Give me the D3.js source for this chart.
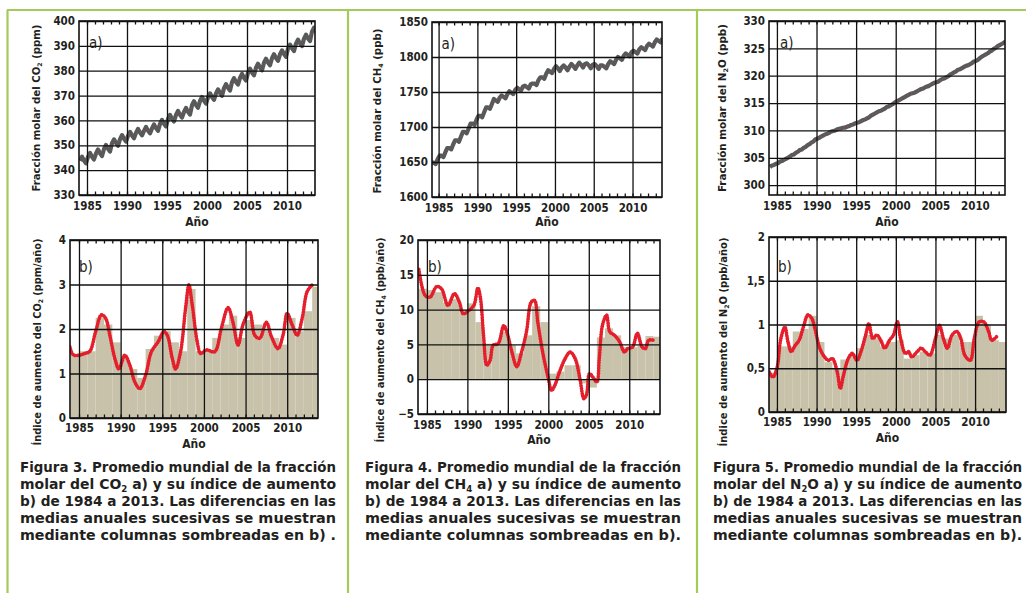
<!DOCTYPE html>
<html>
<head>
<meta charset="utf-8">
<script src="https://cdn.jsdelivr.net/npm/d3@7"></script>
<style>
body { margin: 0; background: #fff; }
svg { display: block; }
text { font-family: "Liberation Sans Narrow", "DejaVu Sans Condensed", sans-serif; fill: #231f20; }
</style>
</head>
<body>
<svg id="chart" width="1026" height="593"></svg>
<script>
// years covered by the records
var years = d3.range(1984, 2014);
var majorYears = [1985, 1990, 1995, 2000, 2005, 2010];

// a) mole fraction, four readings per year (1984 .. 2013)
var co2Quarterly = [
  343.8, 345.4, 343.9, 342.8,  345.3, 346.9, 345.4, 344.3,  346.7, 348.3, 346.8, 345.7,
  348.5, 350.1, 348.6, 347.5,  350.8, 352.4, 350.9, 349.8,  352.5, 354.1, 352.6, 351.5,
  353.8, 355.4, 353.9, 352.8,  355.0, 356.6, 355.1, 354.0,  355.8, 357.4, 355.9, 354.8,
  356.8, 358.4, 356.9, 355.8,  358.6, 360.2, 358.7, 357.6,  360.6, 362.2, 360.7, 359.6,
  362.2, 363.8, 362.3, 361.2,  363.4, 365.0, 363.5, 362.4,  366.1, 367.7, 366.2, 365.1,
  367.8, 369.4, 367.9, 366.8,  369.3, 370.9, 369.4, 368.3,  370.9, 372.5, 371.0, 369.9,
  373.0, 374.6, 373.1, 372.0,  375.4, 377.0, 375.5, 374.4,  377.1, 378.7, 377.2, 376.1,
  379.2, 380.8, 379.3, 378.2,  381.2, 382.8, 381.3, 380.2,  383.2, 384.8, 383.3, 382.2,
  385.0, 386.6, 385.1, 384.0,  386.6, 388.2, 386.7, 385.6,  388.9, 390.5, 389.0, 387.9,
  390.9, 392.5, 391.0, 389.9,  392.9, 394.5, 393.0, 391.9,  395.7, 397.3, 395.8, 394.7
];
var co2Annual = [344.0, 345.5, 346.9, 348.7, 351.0, 352.7, 354.0, 355.2, 356.0, 357.0,
  358.8, 360.8, 362.4, 363.6, 366.3, 368.0, 369.5, 371.1, 373.2, 375.6,
  377.3, 379.4, 381.4, 383.4, 385.2, 386.8, 389.1, 391.1, 393.1, 395.9];

var ch4Quarterly = [
  1649, 1649, 1647, 1654,  1659, 1659, 1657, 1664,  1670, 1670, 1668, 1675,
  1681, 1681, 1679, 1686,  1693, 1693, 1691, 1698,  1705, 1705, 1703, 1710,
  1716, 1716, 1714, 1721,  1728, 1728, 1726, 1733,  1740, 1738, 1736, 1742,
  1745, 1743, 1741, 1747,  1751, 1749, 1747, 1753,  1756, 1754, 1752, 1758,
  1759, 1757, 1755, 1761,  1762, 1762, 1760, 1767,  1771, 1771, 1769, 1776,
  1781, 1779, 1777, 1783,  1787, 1784, 1780, 1785,  1788, 1785, 1781, 1786,
  1790, 1787, 1783, 1788,  1792, 1789, 1785, 1790,  1791, 1788, 1784, 1789,
  1790, 1787, 1783, 1788,  1788, 1786, 1784, 1790,  1794, 1792, 1790, 1796,
  1800, 1798, 1796, 1802,  1805, 1803, 1801, 1807,  1809, 1807, 1805, 1811,
  1814, 1812, 1810, 1816,  1819, 1817, 1815, 1821,  1825, 1823, 1821, 1827
];
var ch4Annual = [1650, 1660, 1671, 1682, 1694, 1706, 1717, 1729, 1739, 1744,
  1750, 1755, 1758, 1763, 1772, 1780, 1784, 1785, 1787, 1789,
  1788, 1787, 1787, 1793, 1799, 1804, 1808, 1813, 1818, 1824];

var n2oQuarterly = [
  303.3, 303.6, 303.7, 303.9,  304.0, 304.3, 304.4, 304.6,  304.8, 305.0, 305.2, 305.5,
  305.6, 305.9, 306.1, 306.4,  306.5, 306.8, 307.0, 307.3,  307.5, 307.8, 308.0, 308.4,
  308.5, 308.7, 308.9, 309.1,  309.3, 309.4, 309.6, 309.8,  309.9, 310.0, 310.2, 310.3,
  310.4, 310.5, 310.5, 310.7,  310.8, 311.0, 311.1, 311.3,  311.4, 311.5, 311.7, 311.9,
  312.0, 312.2, 312.4, 312.7,  312.9, 313.1, 313.3, 313.5,  313.6, 313.8, 314.0, 314.3,
  314.4, 314.6, 314.8, 315.1,  315.3, 315.5, 315.7, 315.9,  316.1, 316.3, 316.5, 316.7,
  316.8, 316.9, 317.1, 317.3,  317.5, 317.6, 317.8, 318.0,  318.1, 318.3, 318.5, 318.7,
  318.8, 318.9, 319.2, 319.4,  319.5, 319.7, 319.9, 320.2,  320.4, 320.6, 320.8, 321.1,
  321.2, 321.4, 321.6, 321.8,  321.9, 322.1, 322.3, 322.6,  322.7, 322.9, 323.2, 323.5,
  323.7, 323.9, 324.1, 324.4,  324.6, 324.9, 325.1, 325.4,  325.6, 325.8, 326.0, 326.3
];
var n2oAnnual = [303.6, 304.3, 305.1, 306.0, 306.9, 307.9, 308.8, 309.5, 310.1, 310.5,
  311.0, 311.6, 312.3, 313.2, 313.9, 314.7, 315.6, 316.4, 317.0, 317.7,
  318.4, 319.0, 319.8, 320.7, 321.5, 322.2, 323.0, 324.0, 325.0, 325.9];

// b) growth rate (smoothed curve, [year, value])
var co2Rate = [[1983.9,1.6],[1984.3,1.42],[1985,1.41],[1985.7,1.45],[1986.3,1.5],[1987,1.94],
  [1987.7,2.32],[1988.2,2.24],[1988.7,1.86],[1989.3,1.34],[1989.8,1.1],[1990.5,1.41],
  [1991.1,1.19],[1991.7,0.81],[1992.3,0.66],[1993,0.96],[1993.7,1.49],[1994.5,1.71],
  [1995.2,1.94],[1995.6,1.86],[1996.2,1.34],[1996.6,1.1],[1997.2,1.49],[1997.8,2.47],
  [1998.2,2.99],[1998.6,2.54],[1999.2,1.71],[1999.6,1.45],[2000.3,1.53],[2001.3,1.49],
  [2002.1,2.02],[2002.9,2.48],[2003.5,2.14],[2004.1,1.64],[2004.7,2.1],[2005.5,2.38],
  [2006.1,1.86],[2006.7,1.79],[2007.5,2.15],[2008.1,1.83],[2008.9,1.56],[2009.5,1.86],
  [2010.0,2.35],[2010.6,2.09],[2011.2,1.86],[2011.8,2.24],[2012.4,2.84],[2013.0,2.99]];
var ch4Rate = [[1984.0,15.8],[1984.8,12.0],[1985.4,11.8],[1986.2,13.3],[1986.8,13.0],[1987.6,10.6],
  [1988.4,12.3],[1989.0,11.1],[1989.5,9.4],[1990.2,9.9],[1990.8,10.6],[1991.3,13.1],
  [1991.6,11.8],[1992.0,6.3],[1992.4,2.0],[1992.8,2.7],[1993.2,4.9],[1993.8,5.1],
  [1994.5,7.7],[1994.9,6.7],[1995.5,3.9],[1996.1,1.8],[1996.7,3.9],[1997.3,6.8],
  [1997.9,11.1],[1998.3,11.3],[1998.7,8.2],[1999.3,3.9],[2000.0,0.1],[2000.4,-1.6],
  [2000.8,-0.9],[2001.4,1.1],[2002.1,3.0],[2002.7,3.9],[2003.3,3.0],[2003.9,0.1],
  [2004.4,-2.8],[2004.7,-2.3],[2005.1,0.8],[2005.5,0.3],[2006.0,-0.4],[2006.3,3.0],
  [2006.7,7.8],[2007.2,9.2],[2007.6,6.8],[2008.2,6.3],[2008.8,5.4],[2009.4,3.9],
  [2009.8,4.4],[2010.4,4.6],[2011.0,6.6],[2011.6,4.6],[2012.0,4.4],[2012.4,5.6],[2013.0,5.6]];
var n2oRate = [[1984.0,0.46],[1984.5,0.40],[1985.0,0.5],[1985.5,0.84],[1986.0,0.97],[1986.4,0.80],
  [1986.8,0.69],[1987.3,0.76],[1987.8,0.82],[1988.4,0.99],[1988.9,1.11],[1989.4,1.07],
  [1989.8,0.95],[1990.4,0.73],[1991.0,0.63],[1991.5,0.59],[1992.0,0.61],[1992.6,0.46],
  [1993.0,0.27],[1993.4,0.42],[1994.0,0.61],[1994.5,0.67],[1995.1,0.59],[1995.6,0.69],
  [1996.2,0.88],[1996.6,1.01],[1997.1,0.84],[1997.6,0.88],[1998.1,0.82],[1998.6,0.73],
  [1999.2,0.82],[1999.7,0.88],[2000.2,1.03],[2000.6,0.84],[2001.2,0.67],[2001.6,0.69],
  [2002.0,0.63],[2002.7,0.69],[2003.2,0.73],[2003.7,0.69],[2004.3,0.65],[2005.0,0.84],
  [2005.5,0.99],[2006.0,0.84],[2006.5,0.73],[2007.1,0.88],[2007.7,0.92],[2008.2,0.84],
  [2008.7,0.65],[2009.4,0.59],[2009.9,0.84],[2010.5,1.03],[2011.1,1.03],[2011.7,0.92],
  [2012.1,0.82],[2012.7,0.86]];

// b) differences of successive annual means (shaded columns)
var co2Bars = [1.4, 1.5, 1.5, 2.25, 2.1, 1.7, 1.35, 1.1, 0.9, 1.55, 1.85, 1.95, 1.7, 1.5, 2.9,
  1.5, 1.5, 1.8, 2.1, 2.3, 1.8, 2.2, 2.1, 2.0, 1.8, 1.65, 2.25, 1.95, 2.4, 2.95];
var ch4Bars = [13, 12.8, 12.5, 11, 11.5, 10, 10.9, 8.2, 5.1, 5.1, 6.8, 4.9, 3.7, 6.3, 10.5,
  8.2, 0.8, 1.1, 2.0, 2.0, -0.6, -1.2, 6.0, 7.3, 6.3, 4.6, 4.6, 4.9, 6.2, 6.1];
var n2oBars = [0.45, 0.75, 0.75, 0.92, 0.95, 1.1, 0.8, 0.57, 0.5, 0.6, 0.65, 0.73, 0.88, 0.84,
  0.75, 0.8, 0.82, 0.61, 0.65, 0.69, 0.67, 0.88, 0.84, 0.88, 0.8, 0.8, 1.1, 0.99, 0.82, 0.8];

// axis ticks
var co2Ticks = [330, 340, 350, 360, 370, 380, 390, 400];
var ch4Ticks = [1600, 1650, 1700, 1750, 1800, 1850];
var n2oTicks = [300, 305, 310, 315, 320, 325, 330];
var co2RateTicks = [0, 1, 2, 3, 4];
var ch4RateTicks = [-5, 0, 5, 10, 15, 20];
var n2oRateTicks = [0, 0.5, 1, 1.5, 2];

var captions = [
  ["Figura 3. Promedio mundial de la fracción", "molar del CO|2| a) y su índice de aumento",
   "b) de 1984 a 2013. Las diferencias en las", "medias anuales sucesivas se muestran",
   "mediante columnas sombreadas en b) ."],
  ["Figura 4. Promedio mundial de la fracción", "molar del CH|4| a) y su índice de aumento",
   "b) de 1984 a 2013. Las diferencias en las", "medias anuales sucesivas se muestran",
   "mediante columnas sombreadas en b)."],
  ["Figura 5. Promedio mundial de la fracción", "molar del N|2|O a) y su índice de aumento",
   "b) de 1984 a 2013. Las diferencias en las", "medias anuales sucesivas se muestran",
   "mediante columnas sombreadas en b)."]
];

var svg = d3.select("#chart");
var quarterTime = function(i) { return 1984 + (i + 0.5) / 4; };
var commaFmt = function(d) { return String(d).replace(".", ","); };

// text with "|n|" marking a subscript
function richText(sel, str, size) {
  var parts = str.split("|");
  parts.forEach(function(p, i) {
    if (!p) return;
    var t = sel.append("tspan").text(p);
    if (i % 2 == 1) t.attr("dy", size * 0.22).style("font-size", (size * 0.62) + "px");
    else if (i > 0) t.attr("dy", -size * 0.22);
  });
}

// green frames
var green = "#a5ca5c";
svg.append("line").attr("x1", 7).attr("x2", 1026).attr("y1", 10).attr("y2", 10)
  .attr("stroke", green).attr("stroke-width", 2.2);
[7.5, 348, 697].forEach(function(xx) {
  svg.append("line").attr("x1", xx).attr("x2", xx).attr("y1", 10).attr("y2", 593)
    .attr("stroke", green).attr("stroke-width", 2.2);
});

function drawPanel(o) {
  var x = d3.scaleLinear().domain(o.xDomain).range([o.left, o.right]);
  var y = d3.scaleLinear().domain(o.yDomain).range([o.bottom, o.top]);
  var w = o.right - o.left, h = o.bottom - o.top;
  svg.append("clipPath").attr("id", "clip" + o.id)
    .append("rect").attr("x", o.left).attr("y", o.top).attr("width", w).attr("height", h);
  var g = svg.append("g");
  var plot = g.append("g").attr("clip-path", "url(#clip" + o.id + ")");

  if (o.bars) {
    plot.selectAll("rect.bar").data(o.bars).enter().append("rect")
      .attr("class", "bar")
      .attr("x", function(d, i) { return x(years[i]); })
      .attr("width", function(d, i) { return x(years[i] + 1) - x(years[i]); })
      .attr("y", function(d) { return y(Math.max(0, d)); })
      .attr("height", function(d) { return Math.abs(y(d) - y(0)); })
      .attr("fill", "#c8c2aa");
  }

  // grid + tick labels
  var xa = g.append("g").attr("transform", "translate(0," + o.bottom + ")")
    .call(d3.axisBottom(x).tickValues(majorYears).tickSize(-h).tickPadding(o.xPad).tickFormat(d3.format("d")));
  var ya = g.append("g").attr("transform", "translate(" + o.left + ",0)")
    .call(d3.axisLeft(y).tickValues(o.yTicks).tickSize(-w).tickPadding(4).tickFormat(o.yFormat || d3.format("d")));
  [xa, ya].forEach(function(a) {
    a.select(".domain").remove();
    a.selectAll("line").attr("stroke", "#111").attr("stroke-width", 1.3);
    a.selectAll("text").style("font-size", "11.5px").style("font-weight", "bold")
      .style("font-family", '"Liberation Sans Narrow", "DejaVu Sans Condensed", sans-serif').attr("fill", "#231f20");
  });

  // minor year ticks, top and bottom, pointing inward
  g.append("g").attr("transform", "translate(0," + o.top + ")")
    .call(d3.axisTop(x).tickValues(years.slice(1)).tickSize(-3.5).tickFormat(""))
    .call(function(a) { a.select(".domain").remove(); a.selectAll("line").attr("stroke", "#111").attr("stroke-width", 1.3); });
  g.append("g").attr("transform", "translate(0," + o.bottom + ")")
    .call(d3.axisBottom(x).tickValues(years.slice(1)).tickSize(-3.5).tickFormat(""))
    .call(function(a) { a.select(".domain").remove(); a.selectAll("line").attr("stroke", "#111").attr("stroke-width", 1.3); });

  if (o.series) {
    plot.append("path").datum(o.series)
      .attr("d", d3.line().x(function(d, i) { return x(quarterTime(i)); }).y(function(d) { return y(d); }))
      .attr("fill", "none").attr("stroke", "#555b5b").attr("stroke-width", 4.2).attr("stroke-linejoin", "round");
    plot.append("path").datum(o.trend)
      .attr("d", d3.line().x(function(d, i) { return x(years[i] + 0.5); }).y(function(d) { return y(d); }))
      .attr("fill", "none").attr("stroke", "#e8323a").attr("stroke-width", 1)
      .attr("stroke-dasharray", "1,3");
  }
  if (o.rate) {
    var rl = d3.line().curve(d3.curveCatmullRom.alpha(0.5))
      .x(function(d) { return x(d[0]); }).y(function(d) { return y(d[1]); });
    plot.append("path").datum(o.rate).attr("d", rl)
      .attr("fill", "none").attr("stroke", "#f07a80").attr("stroke-width", 2.4);
    plot.append("path").datum(o.rate).attr("d", rl)
      .attr("fill", "none").attr("stroke", "#e41e2a").attr("stroke-width", 3.6)
      .attr("stroke-linecap", "round").attr("stroke-dasharray", "0.3,2.3");
  }

  // frame
  g.append("rect").attr("x", o.left).attr("y", o.top).attr("width", w).attr("height", h)
    .attr("fill", "none").attr("stroke", "#111").attr("stroke-width", 1.6);

  // panel letter
  g.append("text").attr("x", x(1985) + o.tagDx).attr("y", o.top + o.tagDy)
    .style("font-size", "15px").text(o.tag);

  // x title
  g.append("text").attr("x", (o.left + o.right) / 2).attr("y", o.bottom + o.titleDy)
    .attr("text-anchor", "middle").style("font-size", "12px").style("font-weight", "bold").text("Año");

  // y title
  var yt = g.append("text").attr("transform", "translate(" + o.yTitleX + "," + o.yTitleY + ") rotate(-90)")
    .attr("text-anchor", "middle").style("font-size", "10px").style("font-weight", "bold")
    .attr("textLength", o.yTitleLen).attr("lengthAdjust", "spacingAndGlyphs");
  richText(yt, o.yTitle, 10);
}

var aTop = 21, aBottom = 195, bTop = 240;

drawPanel({ id: "co2a", left: 79, right: 315, top: aTop, bottom: aBottom, xDomain: [1984, 2013.5],
  yDomain: [330, 400], yTicks: co2Ticks, series: co2Quarterly, trend: co2Annual,
  tag: "a)", tagDx: 2, tagDy: 27, xPad: 7, titleDy: 31,
  yTitle: "Fracción molar del CO|2| (ppm)", yTitleX: 40, yTitleY: 108, yTitleLen: 167 });
drawPanel({ id: "co2b", left: 70, right: 318, top: bTop, bottom: 418, xDomain: [1983.92, 2013.7],
  yDomain: [0, 4], yTicks: co2RateTicks, bars: co2Bars, rate: co2Rate,
  tag: "b)", tagDx: 0, tagDy: 32, xPad: 6, titleDy: 30,
  yTitle: "Índice de aumento del CO|2| (ppm/año)", yTitleX: 41, yTitleY: 342, yTitleLen: 207 });

drawPanel({ id: "ch4a", left: 432, right: 662, top: 22, bottom: 197, xDomain: [1984.15, 2013.8],
  yDomain: [1600, 1850], yTicks: ch4Ticks, series: ch4Quarterly, trend: ch4Annual,
  tag: "a)", tagDx: 3, tagDy: 27, xPad: 7, titleDy: 29,
  yTitle: "Fracción molar del CH|4| (ppb)", yTitleX: 381, yTitleY: 111, yTitleLen: 165 });
drawPanel({ id: "ch4b", left: 418, right: 660, top: bTop, bottom: 414, xDomain: [1983.9, 2013.8],
  yDomain: [-5, 20], yTicks: ch4RateTicks, bars: ch4Bars, rate: ch4Rate,
  tag: "b)", tagDx: 1, tagDy: 32, xPad: 7, titleDy: 30,
  yTitle: "Índice de aumento del CH|4| (ppb/año)", yTitleX: 384, yTitleY: 340, yTitleLen: 205 });

drawPanel({ id: "n2oa", left: 769, right: 1005, top: aTop, bottom: aBottom, xDomain: [1984, 2013.8],
  yDomain: [298.2, 330], yTicks: n2oTicks, series: n2oQuarterly, trend: n2oAnnual,
  tag: "a)", tagDx: 3, tagDy: 27, xPad: 7, titleDy: 31,
  yTitle: "Fracción molar del N|2|O (ppb)", yTitleX: 726, yTitleY: 108, yTitleLen: 168 });
drawPanel({ id: "n2ob", left: 769, right: 1006, top: 237, bottom: 412, xDomain: [1984, 2013.9],
  yDomain: [0, 2], yTicks: n2oRateTicks, bars: n2oBars, rate: n2oRate, yFormat: commaFmt,
  tag: "b)", tagDx: 1, tagDy: 35, xPad: 6, titleDy: 30,
  yTitle: "Índice de aumento del N|2|O (ppb/año)", yTitleX: 727, yTitleY: 342, yTitleLen: 209 });

// captions
var capX = [20, 365, 713], capW = [316, 316, 309];
captions.forEach(function(lines, c) {
  lines.forEach(function(line, k) {
    var t = svg.append("text").attr("x", capX[c]).attr("y", 472 + k * 17)
      .style("font-size", "14px").style("font-weight", "bold")
      .attr("textLength", capW[c]).attr("lengthAdjust", "spacingAndGlyphs");
    richText(t, line, 14);
  });
});
</script>
</body>
</html>
